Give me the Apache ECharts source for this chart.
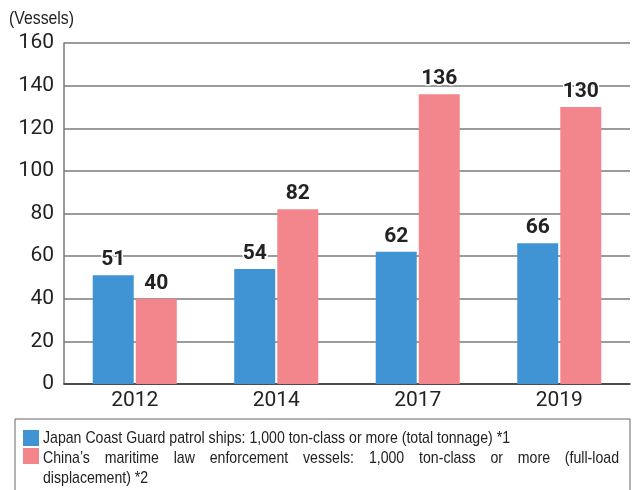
<!DOCTYPE html>
<html>
<head>
<meta charset="utf-8">
<script src="https://cdn.jsdelivr.net/npm/echarts@6/dist/echarts.min.js"></script>
<style>
  html, body { margin: 0; padding: 0; background: #fff; }
  #chart { width: 632px; height: 490px; }
</style>
</head>
<body>
<div id="chart"></div>
<script>
  var years = ["2012", "2014", "2017", "2019"];
  var japanShips = [51, 54, 62, 66];
  var chinaShips = [40, 82, 136, 130];
  var yTicks = [0, 20, 40, 60, 80, 100, 120, 140, 160];
  var unitName = "(Vessels)";
  var japanName = "Japan Coast Guard patrol ships: 1,000 ton-class or more (total tonnage) *1";
  var chinaName = "China\u2019s maritime law enforcement vessels: 1,000 ton-class or more (full-load";
  var chinaName2 = "displacement) *2";

  var blue = "#4194d3";
  var pink = "#f3868c";
  var legendFont = "17px 'Liberation Sans', Arial, sans-serif";
  var unitFont = "19px 'Liberation Sans', Arial, sans-serif";

  var chart = echarts.init(document.getElementById("chart"));

  var labelStyle = {
    show: true,
    position: "top",
    distance: 5,
    color: "#222",
    fontSize: 21,
    fontWeight: "bold",
    fontFamily: "Roboto, sans-serif",
    textBorderColor: "#fff",
    textBorderWidth: 3,
  };

  // the printed legend uses a condensed face: squeeze a normal one to the same width
  var ctx = document.createElement("canvas").getContext("2d");
  ctx.font = unitFont;
  var unitSqueeze = 65 / ctx.measureText(unitName).width;
  ctx.font = legendFont;
  var squeeze = 467 / ctx.measureText(japanName).width;

  function justified(text, x0, x1, y) {
    var words = text.split(" ");
    var widths = words.map(function (w) { return ctx.measureText(w).width * squeeze; });
    var total = widths.reduce(function (a, b) { return a + b; }, 0);
    var gap = (x1 - x0 - total) / (words.length - 1);
    var x = x0;
    return words.map(function (w, i) {
      var el = {
        type: "text",
        x: x,
        y: y,
        scaleX: squeeze,
        style: { text: w, fill: "#222", font: legendFont, verticalAlign: "middle" },
      };
      x += widths[i] + gap;
      return el;
    });
  }

  var graphics = [
    {
      type: "text",
      x: 9,
      y: 19,
      scaleX: unitSqueeze,
      style: { text: unitName, fill: "#222", font: unitFont, verticalAlign: "middle" },
    },
    {
      type: "rect",
      shape: { x: 15, y: 419, width: 615, height: 80 },
      style: { fill: "#fff", stroke: "#666", lineWidth: 1 },
    },
    {
      type: "rect",
      shape: { x: 23, y: 430, width: 16, height: 16 },
      style: { fill: blue },
    },
    {
      type: "text",
      x: 43,
      y: 438,
      scaleX: squeeze,
      style: { text: japanName, fill: "#222", font: legendFont, verticalAlign: "middle" },
    },
    {
      type: "rect",
      shape: { x: 23, y: 448, width: 16, height: 16 },
      style: { fill: pink },
    },
    {
      type: "text",
      x: 43,
      y: 478,
      scaleX: squeeze,
      style: { text: chinaName2, fill: "#222", font: legendFont, verticalAlign: "middle" },
    },
  ].concat(justified(chinaName, 43, 619, 458));

  var option = {
    backgroundColor: "#fff",
    animation: false,
    grid: {
      left: 64,
      right: 2,
      top: 43,
      bottom: 106,
      containLabel: false,
    },
    xAxis: {
      type: "category",
      data: years,
      axisTick: { show: false },
      axisLine: { lineStyle: { color: "#333", width: 1.5 } },
      axisLabel: {
        color: "#222",
        fontSize: 21,
        fontFamily: "Roboto, sans-serif",
        margin: 6,
      },
    },
    yAxis: {
      type: "value",
      min: yTicks[0],
      max: yTicks[yTicks.length - 1],
      interval: 20,
      axisLine: { show: true, lineStyle: { color: "#777", width: 1.5 } },
      axisTick: { show: false },
      splitLine: { lineStyle: { color: "#7a7a7a", width: 1.5 } },
      axisLabel: {
        color: "#222",
        fontSize: 21,
        fontFamily: "Roboto, sans-serif",
        margin: 10,
      },
    },
    series: [
      {
        name: japanName,
        type: "bar",
        data: japanShips,
        barWidth: 41,
        barGap: "5%",
        itemStyle: { color: blue },
        label: labelStyle,
        z: 3,
      },
      {
        name: chinaName,
        type: "bar",
        data: chinaShips,
        barWidth: 41,
        itemStyle: { color: pink },
        label: labelStyle,
        z: 3,
      },
    ],
    graphic: graphics,
  };

  chart.setOption(option);
</script>
</body>
</html>
